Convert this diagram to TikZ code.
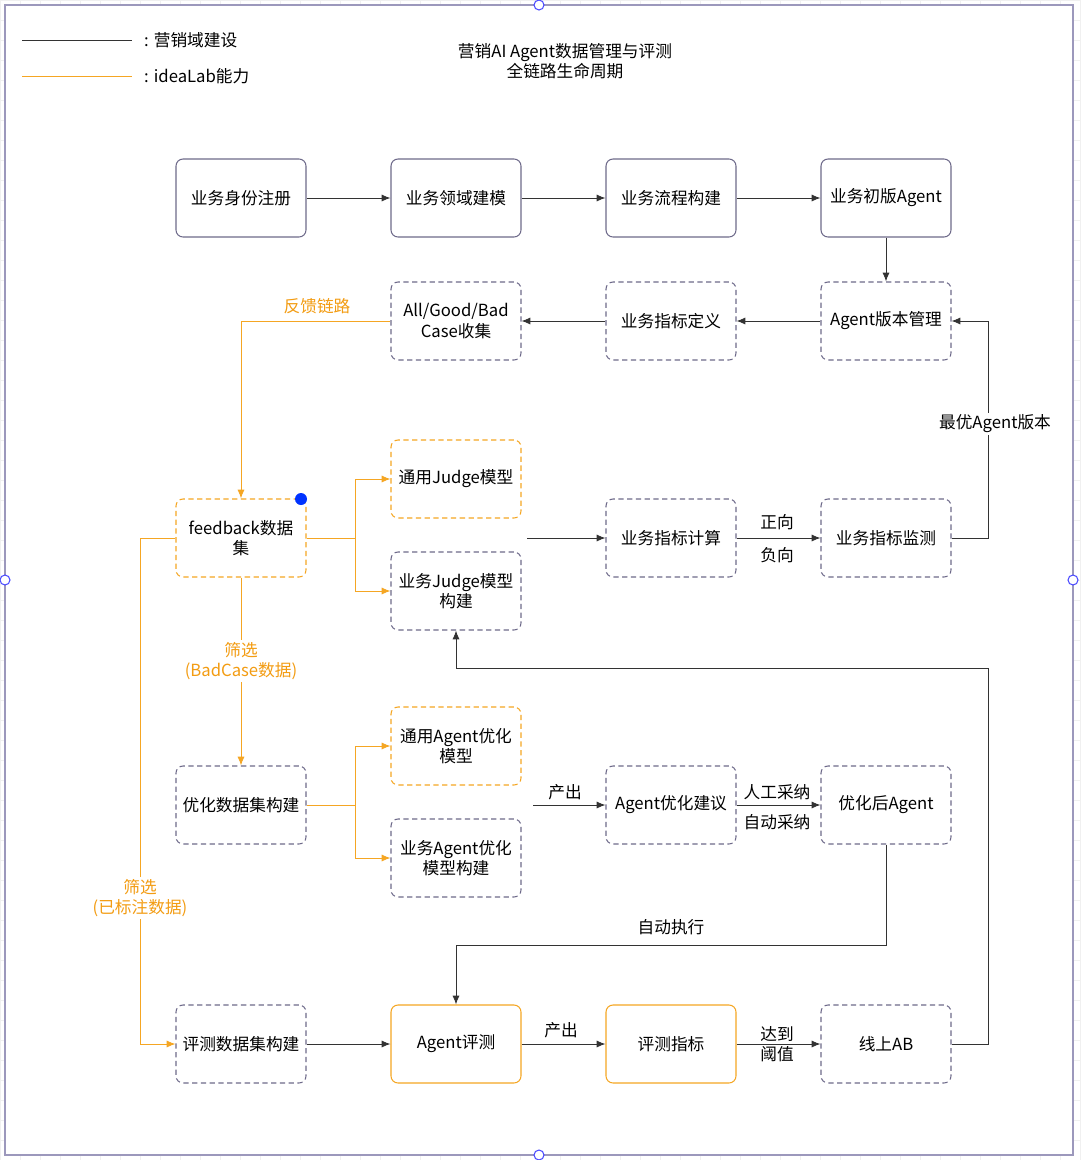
\documentclass[tikz,border=0pt]{standalone}
\usepackage{fontspec}
\setmainfont{Noto Sans CJK SC}
\usetikzlibrary{arrows.meta}
\definecolor{org}{HTML}{F5A623}
\definecolor{otxt}{HTML}{F39C12}
\definecolor{dsh}{HTML}{6E6A8A}
\definecolor{frame}{HTML}{9C98BC}
\begin{document}
\begin{tikzpicture}[x=0.02cm,y=-0.02cm,
 font=\fontsize{9.5pt}{11.5pt}\selectfont,
 box/.style={draw=dsh!90!black,rounded corners=4pt,minimum width=130*0.02cm,minimum height=78*0.02cm,align=center,line width=0.6pt},
 dbox/.style={box,dashed,dash pattern=on 3pt off 2pt,draw=dsh},
 obox/.style={box,dashed,dash pattern=on 3pt off 2pt,draw=org},
 osol/.style={box,draw=org},
 ar/.style={-{Latex[length=5pt,width=4pt]},line width=0.5pt,draw=black!80},
 oar/.style={-{Latex[length=5pt,width=4pt,fill=org]},line width=0.5pt,draw=org},
 ln/.style={line width=0.5pt,draw=black!80},
 oln/.style={line width=0.5pt,draw=org},
 lb/.style={align=center},
 olb/.style={lb,text=otxt}]
\useasboundingbox (0,0) rectangle (1080,1160);
\fill[white] (0,0) rectangle (1080,1160);
\foreach \i in {0,20,...,1080} \draw[black!6,line width=0.3pt] (\i,0)--(\i,1160);
\foreach \j in {0,20,...,1160} \draw[black!6,line width=0.3pt] (0,\j)--(1080,\j);
\draw[frame,line width=0.6pt,fill=white] (5,5) rectangle (1073,1155);
\foreach \p in {(539,5),(539,1155),(5,580),(1073,580)} \draw[blue!70,fill=white,line width=0.6pt] \p circle (5);
% legend and title
\draw[ln] (22,40)--(132,40); \node[anchor=west] (lg1) at (138,40) {: 营销域建设};
\draw[oln] (22,76)--(132,76); \node[anchor=west] (lg2) at (138,76) {: ideaLab能力};
\node[align=center] (title) at (565,61) {营销AI Agent数据管理与评测\\全链路生命周期};
% row1
\node[box,draw=dsh] (a1) at (241,198) {业务身份注册};
\node[box,draw=dsh] (a2) at (456,198) {业务领域建模};
\node[box,draw=dsh] (a3) at (671,198) {业务流程构建};
\node[box,draw=dsh] (a4) at (886,198) {业务初版Agent};
% row2
\node[dbox] (b1) at (456,321) {All/Good/Bad\\Case收集};
\node[dbox] (b2) at (671,321) {业务指标定义};
\node[dbox] (b3) at (886,321) {Agent版本管理};
% row3
\node[obox] (fb) at (241,538) {feedback数据\\集};
\node[obox] (gj) at (456,479) {通用Judge模型};
\node[dbox] (bj) at (456,591) {业务Judge模型\\构建};
\node[dbox] (mc) at (671,538) {业务指标计算};
\node[dbox] (mm) at (886,538) {业务指标监测};
\fill[blue!80!cyan] (301,499) circle (6);
% row4
\node[dbox] (od) at (241,805) {优化数据集构建};
\node[obox] (ga) at (456,746) {通用Agent优化\\模型};
\node[dbox] (ba) at (456,858) {业务Agent优化\\模型构建};
\node[dbox] (as) at (671,805) {Agent优化建议};
\node[dbox] (oa) at (886,805) {优化后Agent};
% row5
\node[dbox] (ed) at (241,1044) {评测数据集构建};
\node[osol] (ae) at (456,1044) {Agent评测};
\node[osol] (em) at (671,1044) {评测指标};
\node[dbox] (ab) at (886,1044) {线上AB};
% edges
\draw[ar] (a1)--(a2); \draw[ar] (a2)--(a3); \draw[ar] (a3)--(a4);
\draw[ar] (a4)--(b3); \draw[ar] (b3)--(b2); \draw[ar] (b2)--(b1);
\draw[oar] (b1.west)--(241,321)--(fb.north);
\node[olb] (l1) at (317,306) {反馈链路};
\draw[oar] (fb.east)--(355,538)--(355,479)--(gj.west);
\draw[oar] (355,538)--(355,591)--(bj.west);
\coordinate (js) at (527,538);
\draw[ar] (js)--(mc.west);
\draw[ar] (mc)--(mm);
\node[lb] (l2) at (777,522) {正向}; \node[lb] (l3) at (777,555) {负向};
\draw[ar] (mm.east)--(988,538)--(988,321)--(b3.east);
\node[lb,fill=white,inner sep=1pt] (l4) at (995,424) {最优Agent版本};
\draw[ar] (ab.east)--(988,1044)--(988,668)--(456,668)--(bj.south);
\draw[oar] (fb.south)--(od.north);
\node[olb,fill=white,inner sep=1pt] (l5) at (241,661) {筛选\\(BadCase数据)};
\draw[oar] (fb.west)--(140,538)--(140,1044)--(ed.west);
\node[olb,fill=white,inner sep=1pt] (l6) at (140,898) {筛选\\(已标注数据)};
\draw[oar] (od.east)--(355,805)--(355,746)--(ga.west);
\draw[oar] (355,805)--(355,858)--(ba.west);
\coordinate (cs) at (533,805);
\draw[ar] (cs)--(as.west);
\node[lb] (l7) at (565,792) {产出};
\draw[ar] (as)--(oa);
\node[lb] (l8) at (777,792) {人工采纳}; \node[lb] (l9) at (777,822) {自动采纳};
\draw[ar] (oa.south)--(886,945)--(456,945)--(ae.north);
\node[lb] (l10) at (671,927) {自动执行};
\draw[ar] (ed)--(ae);
\draw[ar] (ae)--(em); \node[lb] (l11) at (561,1030) {产出};
\draw[ar] (em)--(ab); \node[lb] (l12) at (777,1044) {达到\\阈值};
\end{tikzpicture}
\end{document}
